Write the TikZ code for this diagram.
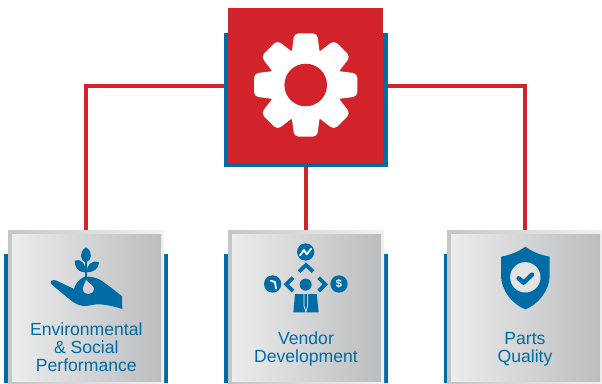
\documentclass[tikz,border=0pt]{standalone}
\usepackage{fontspec}
\usetikzlibrary{backgrounds}
\setmainfont{Liberation Sans}
\definecolor{brandred}{HTML}{D2232A}
\definecolor{brandblue}{HTML}{006CA6}
\definecolor{outerl}{HTML}{C4C5C7}
\definecolor{outerr}{HTML}{F1F1F1}
\definecolor{innerl}{HTML}{ECECEC}
\definecolor{innerr}{HTML}{BBBDBF}
\tikzset{
  plate/.style={rectangle,inner sep=0pt,outer sep=0pt,draw=none},
  mainbox/.style={plate,fill=brandred,minimum width=155pt,minimum height=155pt},
  mainback/.style={plate,fill=brandblue,minimum width=164pt,minimum height=134pt},
  cardback/.style={plate,fill=brandblue,minimum height=129pt},
  cardouter/.style={plate,left color=outerl,right color=outerr,minimum height=153pt},
  cardinner/.style={plate,left color=innerl,middle color=innerl!62!innerr,right color=innerr,minimum width=149pt,minimum height=147pt},
  wire/.style={draw=brandred,line width=4pt},
  label/.style={inner sep=0pt,text=brandblue,font=\fontsize{17.6}{18}\selectfont,align=center},
  icon/.style={fill=brandblue,draw=none},
  stroke/.style={draw=brandblue,line width=3.8pt,line join=miter},
  cutout/.style={draw=white,line width=1.8pt,line cap=round,line join=round}
}
\begin{document}
\begin{tikzpicture}[x=1pt,y=-1pt]
\useasboundingbox (0,0) rectangle (602,383);
\node[mainback] (mainb) at (306,100) {};
\node[mainbox] (main) at (305.5,85.5) {};
\node[cardback,minimum width=164pt] (back1) at (86,318.5) {};
\node[cardback,minimum width=164pt] (back2) at (306,318.5) {};
\node[cardback,minimum width=158pt] (back3) at (523,318.5) {};
\node[cardouter,minimum width=156pt] (card1) at (86,306.5) {};
\node[cardouter,minimum width=156pt] (card2) at (306,306.5) {};
\node[cardouter,minimum width=155pt] (card3) at (524.5,306.5) {};
\node[cardinner] (in1) at (86.5,307.5) {};
\node[cardinner] (in2) at (306.5,307.5) {};
\node[cardinner] (in3) at (525.5,307.5) {};
% wires run under the boxes
\begin{scope}[on background layer]
\fill[white] (0,0) rectangle (602,383);
\draw[wire] (main.west) -| (card1.north);
\draw[wire] (main.east) -| (card3.north);
\draw[wire] (main.south -| card2.north) -- (card2.north);
\end{scope}
% gear
\begin{scope}[shift={(305.7,85)}]
  \fill[white] (0,0) circle (37);
  \foreach \a in {0,45,...,315}{
    \fill[white,rotate=\a,rounded corners=4.5pt] (-14.5,-28) -- (-11.5,-51.7) -- (11.5,-51.7) -- (14.5,-28) -- cycle;
  }
  \fill[brandred] (0,0) circle (21.3);
\end{scope}
% plant and hand
\begin{scope}[shift={(0,220)},scale=1/3]
  \fill[icon,even odd rule] (152,184) .. controls (156,179) and (163,179) .. (170,182)
    -- (222,207) .. controls (224,195) and (236,178) .. (253,170)
    .. controls (270,168) and (290,173) .. (305,182)
    -- (340,208) .. controls (350,216) and (358,222) .. (366,229)
    -- (367,267) .. controls (345,260) and (325,255) .. (300,253)
    .. controls (280,252) and (265,259) .. (250,258)
    .. controls (235,256) and (225,250) .. (215,243)
    -- (160,198) .. controls (155,194) and (151,190) .. (152,184) -- cycle
    (258,178) .. controls (262,188) and (282,194) .. (282,206)
    .. controls (282,228) and (248,228) .. (248,206)
    .. controls (248,196) and (256,190) .. (258,178) -- cycle;
  \fill[icon] (258,82) .. controls (236,95) and (240,122) .. (257,128)
    .. controls (276,122) and (280,95) .. (258,82) -- cycle;
  \fill[icon] (224,122) .. controls (242,114) and (257,130) .. (257,157)
    .. controls (234,157) and (224,142) .. (224,122) -- cycle;
  \fill[icon] (297,127) .. controls (280,118) and (261,132) .. (259,157)
    .. controls (282,157) and (296,146) .. (297,127) -- cycle;
  \draw[brandblue,line width=1.2pt] (258,125) -- (258,178);
\end{scope}
% vendor icon
\begin{scope}[shift={(215,220)},scale=1/3]
  \fill[icon] (272,96) circle (26);
  \fill[icon] (173,192) circle (26);
  \fill[icon] (372,192) circle (26);
  \fill[icon] (272,194) circle (18);
  \draw[stroke] (252,155) -- (273,135) -- (294,155);
  \draw[stroke] (234,173) -- (214,193) -- (234,213);
  \draw[stroke] (311,173) -- (331,193) -- (311,213);
  \draw[cutout] (255,106) -- (267,90) -- (275,103) -- (289,86);
  \draw[cutout] (167,182) -- (180,186) -- (183,206);
  \node[inner sep=0pt,text=white,font=\bfseries\fontsize{11}{11}\selectfont] (dollar) at (372,192) {\$};
  \fill[icon] (240,222) -- (305,222) -- (311,277) -- (235,277) -- cycle;
  \draw[white,line width=0.7pt] (267,222) -- (267,258) -- (272.5,275) -- (278,258) -- (278,222);
\end{scope}
% shield
\begin{scope}[shift={(432,220)},scale=1/3]
  \fill[icon] (280,80) .. controls (260,95) and (235,105) .. (207,110)
    -- (207,165) .. controls (207,215) and (245,255) .. (280,268)
    .. controls (315,255) and (353,215) .. (353,165)
    -- (353,110) .. controls (325,105) and (300,95) .. (280,80) -- cycle;
  \fill[innerl!80!innerr] (280,172) circle (45.5);
  \draw[brandblue,line width=4.5pt,line cap=round,line join=round] (260,175) -- (275,188) -- (300,164);
\end{scope}
% labels
\node[label,anchor=base] (t1a) at (86.3,335.3) {Environmental};
\node[label,anchor=base] (t1b) at (86.3,353.3) {\& Social};
\node[label,anchor=base] (t1c) at (86.3,371.3) {Performance};
\node[label,anchor=base] (t2a) at (306,344) {Vendor};
\node[label,anchor=base] (t2b) at (306,362) {Development};
\node[label,anchor=base] (t3a) at (525,344) {Parts};
\node[label,anchor=base] (t3b) at (525,362) {Quality};
\end{tikzpicture}
\end{document}
